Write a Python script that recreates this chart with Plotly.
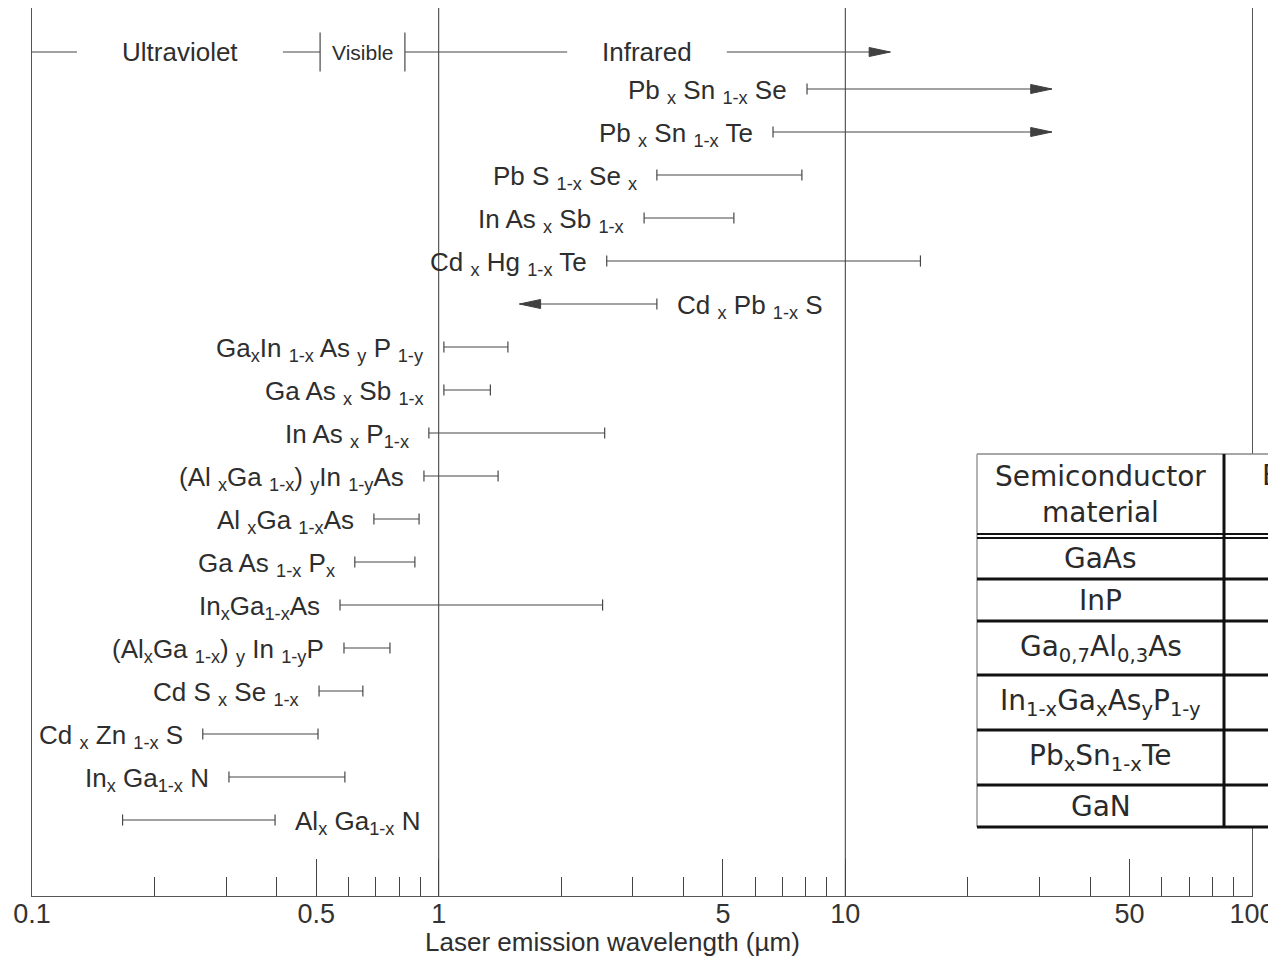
import math
import plotly.graph_objects as go

# ---------------- data ----------------
materials = [
    "Pb <sub>x</sub> Sn <sub>1-x</sub> Se",
    "Pb <sub>x</sub> Sn <sub>1-x</sub> Te",
    "Pb S <sub>1-x</sub> Se <sub>x</sub>",
    "In As <sub>x</sub> Sb <sub>1-x</sub>",
    "Cd <sub>x</sub> Hg <sub>1-x</sub> Te",
    "Cd <sub>x</sub> Pb <sub>1-x</sub> S",
    "Ga<sub>x</sub>In <sub>1-x</sub> As <sub>y</sub> P <sub>1-y</sub>",
    "Ga As <sub>x</sub> Sb <sub>1-x</sub>",
    "In As <sub>x</sub> P<sub>1-x</sub>",
    "(Al <sub>x</sub>Ga <sub>1-x</sub>) <sub>y</sub>In <sub>1-y</sub>As",
    "Al <sub>x</sub>Ga <sub>1-x</sub>As",
    "Ga As <sub>1-x</sub> P<sub>x</sub>",
    "In<sub>x</sub>Ga<sub>1-x</sub>As",
    "(Al<sub>x</sub>Ga <sub>1-x</sub>) <sub>y</sub> In <sub>1-y</sub>P",
    "Cd S <sub>x</sub> Se <sub>1-x</sub>",
    "Cd <sub>x</sub> Zn <sub>1-x</sub> S",
    "In<sub>x</sub> Ga<sub>1-x</sub> N",
    "Al<sub>x</sub> Ga<sub>1-x</sub> N",
]
lambda_min = [8.05, 6.64, 3.44, 3.20, 2.59, 1.58, 1.03, 1.03, 0.946, 0.92,
              0.693, 0.622, 0.572, 0.585, 0.508, 0.263, 0.305, 0.167]
lambda_max = [32.2, 32.2, 7.82, 5.32, 15.3, 3.44, 1.48, 1.34, 2.56, 1.40,
              0.895, 0.874, 2.53, 0.759, 0.651, 0.505, 0.588, 0.396]
open_min = [False, False, False, False, False, True, False, False, False,
            False, False, False, False, False, False, False, False, False]
open_max = [True, True, False, False, False, False, False, False, False,
            False, False, False, False, False, False, False, False, False]
label_side = ["left"] * 5 + ["right"] + ["left"] * 11 + ["right"]

region_names = ["Ultraviolet", "Visible", "Infrared"]
region_start = [0.1, 0.511, 0.826]
region_end = [0.511, 0.826, 12.9]
region_gap_lo = [0.129, 0.511, 2.07]
region_gap_hi = [0.414, 0.826, 5.11]
region_bars = [0.511, 0.826]

decade_lines = [1, 10]
tick_values = [0.1, 0.5, 1, 5, 10, 50, 100]
tick_text = ["0.1", "0.5", "1", "5", "10", "50", "100"]
minor_values = [0.2, 0.3, 0.4, 0.6, 0.7, 0.8, 0.9,
                2, 3, 4, 6, 7, 8, 9,
                20, 30, 40, 60, 70, 80, 90]
x_title = "Laser emission wavelength (µm)"

table_header = ["Semiconductor<br>material", "Emission wavelength"]
table_materials = [
    "GaAs",
    "InP",
    "Ga<sub>0,7</sub>Al<sub>0,3</sub>As",
    "In<sub>1-x</sub>Ga<sub>x</sub>As<sub>y</sub>P<sub>1-y</sub>",
    "Pb<sub>x</sub>Sn<sub>1-x</sub>Te",
    "GaN",
]

# ---------------- layout constants (screen pixels) ----------------
PAGE_OFF = 8                     # default body margin of the html page
SCR_W, SCR_H = 1276, 958
W, H = SCR_W - PAGE_OFF, SCR_H - PAGE_OFF
PLOT_L, PLOT_R, PLOT_T, PLOT_B = 32, 1252, 8, 896   # screen coords
ML = PLOT_L - PAGE_OFF
MR = SCR_W - PLOT_R
MT = PLOT_T - PAGE_OFF
MB = SCR_H - PLOT_B
PW = PLOT_R - PLOT_L
PH = PLOT_B - PLOT_T
ROW1_PX, ROW_STEP = 89, 43
Y_TOP = 1 + (PLOT_T - ROW1_PX) / ROW_STEP
Y_BOT = 1 + (PLOT_B - ROW1_PX) / ROW_STEP
HEADER_ROW = 1 + (52 - ROW1_PX) / ROW_STEP
LINE = "#474747"
LABEL_FONT = dict(family="Liberation Sans", size=26, color="#2e2e2e")
ARROW_LEN = 0.052   # decades
ARROW_HALF = 0.105  # rows


def px_x(px):
    return (px - PLOT_L) / PW


def px_y(py):
    return (PLOT_B - py) / PH


rows = list(range(1, len(materials) + 1))

fig = go.Figure()

# decade reference lines
for v in decade_lines:
    fig.add_trace(go.Scatter(x=[v, v], y=[Y_TOP, Y_BOT], mode="lines",
                             line=dict(color=LINE, width=1.1),
                             hoverinfo="skip", showlegend=False))

# material bars
bx, by = [], []
cx, cy = [], []
tx, ty = [], []
for r, lo, hi, omin, omax in zip(rows, lambda_min, lambda_max, open_min, open_max):
    bx += [lo, hi, None]
    by += [r, r, None]
    if not omin:
        cx.append(lo); cy.append(r)
    else:
        k = 10 ** ARROW_LEN
        tx += [lo * k, lo, lo * k, lo * k, None]
        ty += [r - ARROW_HALF, r, r + ARROW_HALF, r - ARROW_HALF, None]
    if not omax:
        cx.append(hi); cy.append(r)
    else:
        k = 10 ** (-ARROW_LEN)
        tx += [hi * k, hi, hi * k, hi * k, None]
        ty += [r - ARROW_HALF, r, r + ARROW_HALF, r - ARROW_HALF, None]

# spectral header row
hx, hy = [], []
for s, e, glo, ghi in zip(region_start, region_end, region_gap_lo, region_gap_hi):
    if glo > s:
        hx += [s, glo, None]; hy += [HEADER_ROW, HEADER_ROW, None]
    if ghi < e:
        hx += [ghi, e, None]; hy += [HEADER_ROW, HEADER_ROW, None]
k = 10 ** (-ARROW_LEN)
e = region_end[-1]
tx += [e * k, e, e * k, e * k, None]
ty += [HEADER_ROW - ARROW_HALF, HEADER_ROW, HEADER_ROW + ARROW_HALF,
       HEADER_ROW - ARROW_HALF, None]

fig.add_trace(go.Scatter(x=bx + hx, y=by + hy, mode="lines",
                         line=dict(color=LINE, width=1.2),
                         hoverinfo="skip", showlegend=False))
fig.add_trace(go.Scatter(x=cx, y=cy, mode="markers",
                         marker=dict(symbol="line-ns", size=8,
                                     line=dict(color=LINE, width=1.2)),
                         hoverinfo="skip", showlegend=False))
fig.add_trace(go.Scatter(x=region_bars, y=[HEADER_ROW] * len(region_bars),
                         mode="markers",
                         marker=dict(symbol="line-ns", size=28,
                                     line=dict(color=LINE, width=1.2)),
                         hoverinfo="skip", showlegend=False))
fig.add_trace(go.Scatter(x=tx, y=ty, mode="lines", fill="toself",
                         fillcolor="#404040", line=dict(color="#404040", width=1),
                         hoverinfo="skip", showlegend=False))

annotations = []
# material labels
for r, name, lo, hi, side in zip(rows, materials, lambda_min, lambda_max, label_side):
    if side == "left":
        annotations.append(dict(x=math.log10(lo), y=r, xref="x", yref="y",
                                text=name, showarrow=False, xanchor="right",
                                yanchor="middle", xshift=-18, yshift=-2,
                                font=LABEL_FONT))
    else:
        annotations.append(dict(x=math.log10(hi), y=r, xref="x", yref="y",
                                text=name, showarrow=False, xanchor="left",
                                yanchor="middle", xshift=18, yshift=-2,
                                font=LABEL_FONT))

# spectral region labels
for name, glo, ghi in zip(region_names, region_gap_lo, region_gap_hi):
    fnt = LABEL_FONT
    if name == "Visible":
        fnt = dict(family="Liberation Sans", size=21, color="#2e2e2e")
    annotations.append(dict(x=(math.log10(glo) + math.log10(ghi)) / 2,
                            y=HEADER_ROW, xref="x", yref="y", text=name,
                            showarrow=False, xanchor="center", yanchor="middle",
                            font=fnt))

# x-axis title
annotations.append(dict(x=px_x(612), y=px_y(942), xref="paper", yref="paper",
                        text=x_title, showarrow=False, xanchor="center",
                        yanchor="middle",
                        font=dict(family="Liberation Sans", size=26, color="#2e2e2e")))

# ---------------- table ----------------
T_LEFT, T_RIGHT, T_SPLIT = 977, 1320, 1224
T_TOP = 454
T_HEAD_LINES = [534, 538]
T_ROW_LINES = [579, 621, 675, 730, 785, 827]
T_BOTTOM = T_ROW_LINES[-1]

shapes = []
shapes.append(dict(type="rect", xref="paper", yref="paper",
                   x0=px_x(T_LEFT), x1=px_x(T_RIGHT), y0=px_y(T_BOTTOM), y1=px_y(T_TOP),
                   fillcolor="white", line=dict(width=0), layer="above"))
shapes.append(dict(type="line", xref="paper", yref="paper",
                   x0=px_x(T_LEFT), x1=px_x(T_RIGHT), y0=px_y(T_TOP), y1=px_y(T_TOP),
                   line=dict(color="#8a8a8a", width=1.5), layer="above"))
shapes.append(dict(type="line", xref="paper", yref="paper",
                   x0=px_x(T_LEFT), x1=px_x(T_LEFT), y0=px_y(T_TOP), y1=px_y(T_BOTTOM),
                   line=dict(color="#9a9a9a", width=1.5), layer="above"))
for yl in T_HEAD_LINES:
    shapes.append(dict(type="line", xref="paper", yref="paper",
                       x0=px_x(T_LEFT), x1=px_x(T_RIGHT), y0=px_y(yl), y1=px_y(yl),
                       line=dict(color="#111", width=2), layer="above"))
for yl in T_ROW_LINES:
    shapes.append(dict(type="line", xref="paper", yref="paper",
                       x0=px_x(T_LEFT), x1=px_x(T_RIGHT), y0=px_y(yl), y1=px_y(yl),
                       line=dict(color="#111", width=3), layer="above"))
shapes.append(dict(type="line", xref="paper", yref="paper",
                   x0=px_x(T_SPLIT), x1=px_x(T_SPLIT), y0=px_y(T_TOP), y1=px_y(T_BOTTOM),
                   line=dict(color="#111", width=3), layer="above"))

TABLE_FONT = dict(family="DejaVu Sans", size=28, color="#2a2a2a")
annotations.append(dict(x=px_x((T_LEFT + T_SPLIT) / 2), y=px_y((T_TOP + T_HEAD_LINES[0]) / 2),
                        xref="paper", yref="paper", text=table_header[0],
                        showarrow=False, xanchor="center", yanchor="middle",
                        font=TABLE_FONT))
annotations.append(dict(x=px_x(T_SPLIT + 36), y=px_y(476),
                        xref="paper", yref="paper", text=table_header[1],
                        showarrow=False, xanchor="left", yanchor="middle",
                        font=TABLE_FONT))
row_edges = [T_HEAD_LINES[1]] + T_ROW_LINES
for i, name in enumerate(table_materials):
    yc = (row_edges[i] + row_edges[i + 1]) / 2
    annotations.append(dict(x=px_x((T_LEFT + T_SPLIT) / 2), y=px_y(yc),
                            xref="paper", yref="paper", text=name,
                            showarrow=False, xanchor="center", yanchor="middle",
                            font=TABLE_FONT))

fig.update_layout(
    width=W, height=H,
    margin=dict(l=ML, r=MR, t=MT, b=MB, autoexpand=False),
    paper_bgcolor="white", plot_bgcolor="white",
    showlegend=False,
    annotations=annotations,
    shapes=shapes,
    xaxis=dict(type="log", range=[-1, 2], showgrid=False, zeroline=False,
               showline=True, mirror=True, linecolor="#555", linewidth=1,
               ticks="inside", ticklen=37, tickwidth=1, tickcolor="#444",
               tickvals=tick_values, ticktext=tick_text, ticklabelstandoff=-6,
               tickfont=dict(family="Liberation Sans", size=27, color="#333"),
               minor=dict(tickvals=minor_values, ticks="inside", ticklen=19,
                          tickwidth=1, tickcolor="#444", showgrid=False)),
    yaxis=dict(range=[Y_BOT, Y_TOP], showgrid=False, zeroline=False,
               showline=True, mirror=True, linecolor="#555", linewidth=1,
               showticklabels=False, ticks=""),
)

fig.write_html("out.html")
